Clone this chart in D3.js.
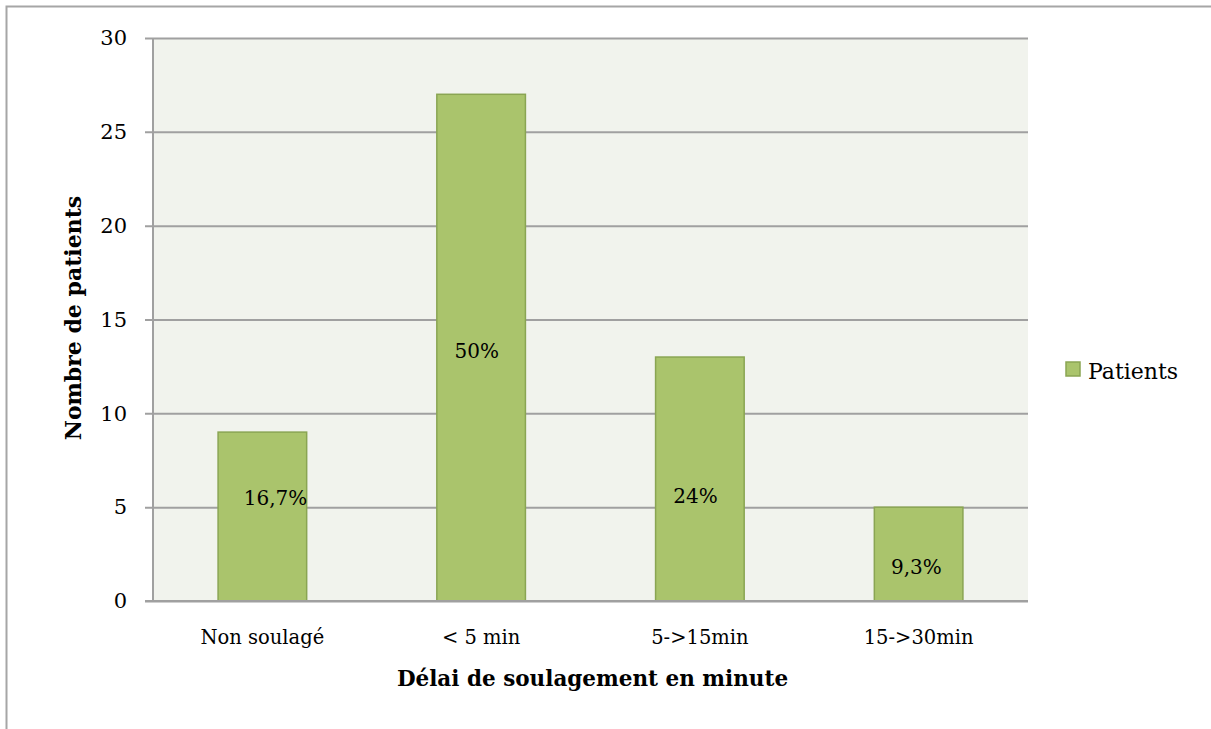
<!DOCTYPE html>
<html>
<head>
<meta charset="utf-8">
<script src="https://cdn.jsdelivr.net/npm/d3@7"></script>
<style>
  body { margin: 0; background: #fff; }
  text { font-family: "DejaVu Serif", serif; fill: #000; }
</style>
</head>
<body>
<div id="chart"></div>
<script>
// categories and values
var categories = ["Non soulagé", "< 5 min", "5->15min", "15->30min"];
var patients = [9, 27, 13, 5];
var pctLabels = ["16,7%", "50%", "24%", "9,3%"];
// where each percent label sits, in value units / band fraction
var labelAt = [5.5, 13.3, 5.6, 1.8];
var labelShift = [0.06, -0.02, -0.02, -0.01];
var yTicks = [0, 5, 10, 15, 20, 25, 30];

var width = 1211, height = 729,
    margin = {top: 38, right: 183, bottom: 128, left: 153},
    w = width - margin.left - margin.right,
    h = height - margin.top - margin.bottom;

var svg = d3.select("#chart").append("svg")
    .attr("width", width)
    .attr("height", height);

// outer frame
svg.append("rect")
    .attr("x", 6.5).attr("y", 6.5)
    .attr("width", width + 20).attr("height", height + 20)
    .style("fill", "none").style("stroke", "#a6a6a6").style("stroke-width", 2);

var g = svg.append("g")
    .attr("transform", "translate(" + margin.left + "," + margin.top + ")");

var X = d3.scaleBand().domain(categories).range([0, w]).paddingInner(0.595).paddingOuter(0.2975),
    Y = d3.scaleLinear().domain([0, 30]).range([h, 0]);

g.append("rect")
    .attr("width", w).attr("height", h)
    .style("fill", "#f1f3ed");

// horizontal gridlines + y ticks
g.append("g")
    .call(d3.axisLeft(Y).tickValues(yTicks).tickSize(-w).tickPadding(26).tickFormat(d3.format("d")))
    .call(function(a) {
        a.select(".domain").remove();
        a.selectAll("line").attr("x1", -8).style("stroke", "#a0a0a0").style("stroke-width", 2);
        a.selectAll("text").style("font-size", "21px").style("font-family", "DejaVu Serif");
    });

// vertical axis line
g.append("line")
    .attr("x1", 0).attr("x2", 0).attr("y1", 0).attr("y2", h)
    .style("stroke", "#a0a0a0").style("stroke-width", 2);

// bars
g.selectAll(".bar").data(patients).enter().append("rect")
    .attr("class", "bar")
    .attr("x", function(d, i) { return X(categories[i]); })
    .attr("y", function(d) { return Y(d); })
    .attr("width", X.bandwidth())
    .attr("height", function(d) { return h - Y(d); })
    .style("fill", "#aac46c")
    .style("stroke", "#8aa553")
    .style("stroke-width", 1.5);

// percent labels
g.selectAll(".lab").data(pctLabels).enter().append("text")
    .attr("class", "lab")
    .attr("x", function(d, i) { return X(categories[i]) + X.bandwidth() / 2 + labelShift[i] * X.step(); })
    .attr("y", function(d, i) { return Y(labelAt[i]); })
    .attr("dy", "0.35em")
    .attr("text-anchor", "middle")
    .style("font-size", "20px")
    .text(function(d) { return d; });

// category axis
g.append("g")
    .attr("transform", "translate(0," + h + ")")
    .call(d3.axisBottom(X).tickSize(0).tickPadding(29))
    .call(function(a) {
        a.select(".domain").remove();
        a.selectAll("text").style("font-size", "19.5px").style("font-family", "DejaVu Serif");
    });

g.append("line")
    .attr("x1", -8).attr("x2", w).attr("y1", h).attr("y2", h)
    .style("stroke", "#a0a0a0").style("stroke-width", 2);

// axis titles
svg.append("text")
    .attr("x", margin.left + w / 2 + 2).attr("y", 686)
    .attr("text-anchor", "middle")
    .style("font-size", "21.5px").style("font-weight", "bold")
    .text("Délai de soulagement en minute");

svg.append("text")
    .attr("transform", "translate(81," + 318 + ") rotate(-90)")
    .attr("text-anchor", "middle")
    .style("font-size", "22px").style("font-weight", "bold")
    .text("Nombre de patients");

// legend
var leg = svg.append("g").attr("transform", "translate(1066,362)");
leg.append("rect")
    .attr("width", 14).attr("height", 14)
    .style("fill", "#aac46c").style("stroke", "#8aa553").style("stroke-width", 1.5);
leg.append("text")
    .attr("x", 22).attr("y", 9).attr("dy", "0.35em")
    .style("font-size", "22px")
    .text("Patients");
</script>
</body>
</html>
